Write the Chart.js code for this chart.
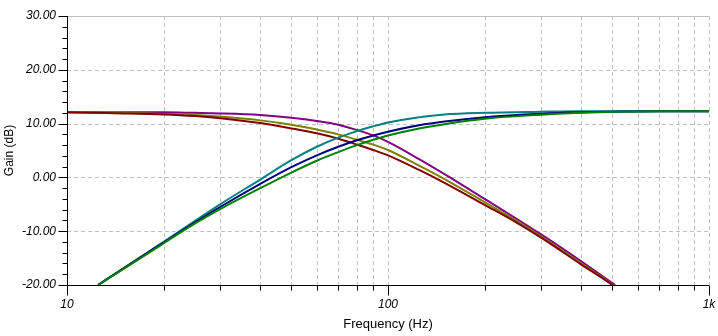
<!DOCTYPE html>
<html>
<head>
<meta charset="utf-8">
<script src="https://cdn.jsdelivr.net/npm/chart.js@4"></script>
<style>
  html, body { margin: 0; padding: 0; background: #fff; }
  #wrap { width: 718px; height: 336px; }
</style>
</head>
<body>
<div id="wrap"><canvas id="gainChart" width="718" height="336"></canvas></div>
<script>
// low-pass responses
const lowFreq = [10, 12, 15, 20, 25, 30, 40, 50, 60, 70, 80, 90, 100, 125, 150, 200, 250, 300, 400, 500, 510];
const lowMaroon = [12.1, 12.0, 11.9, 11.7, 11.4, 11.0, 10.1, 9.1, 8.2, 7.2, 6.1, 5.1, 4.1, 1.4, -1.0, -5.1, -8.3, -11.2, -16.2, -20.0, -20.4];
const lowOlive  = [12.1, 12.1, 12.0, 11.8, 11.6, 11.3, 10.6, 9.8, 8.9, 8.0, 7.0, 6.1, 5.1, 2.2, -0.3, -4.6, -8.0, -11.0, -16.0, -19.9, -20.3];
const lowPurple = [12.1, 12.1, 12.1, 12.1, 12.0, 11.9, 11.6, 11.1, 10.5, 9.8, 8.8, 7.8, 6.6, 3.4, 0.6, -4.0, -7.6, -10.6, -15.6, -19.65, -20.0];

// high-pass responses
const highFreq = [12.5, 15, 20, 25, 30, 40, 50, 60, 70, 80, 90, 100, 125, 150, 200, 300, 400, 500, 700, 1000];
const highTeal  = [-20, -16.9, -12.0, -8.1, -5.0, -0.4, 3.2, 5.7, 7.4, 8.6, 9.5, 10.2, 11.2, 11.7, 12.0, 12.2, 12.3, 12.3, 12.3, 12.3];
const highNavy  = [-20, -16.9, -12.1, -8.4, -5.5, -1.2, 1.9, 4.1, 5.7, 6.9, 7.8, 8.5, 9.7, 10.4, 11.2, 11.85, 12.1, 12.2, 12.3, 12.3];
const highGreen = [-20, -17.0, -12.25, -8.6, -5.9, -2.0, 0.9, 3.1, 4.7, 6.0, 7.0, 7.8, 9.1, 9.9, 10.9, 11.65, 12.0, 12.2, 12.3, 12.3];

// axis ticks
const xDecades = [10, 100];
const xLabelValues = [10, 100, 1000];
const xLabelText = ['10', '100', '1k'];
const yMin = -20, yMax = 30, yMajorStep = 10, yMinorStep = 2;

const xGridValues = [];
xDecades.forEach(d => { for (let m = 1; m < 10; m++) xGridValues.push(d * m); });
xGridValues.push(1000);

function series(freqs, gains, color) {
    return {
        data: freqs.map((f, i) => ({ x: f, y: gains[i] })),
        borderColor: color,
        borderWidth: 2,
        pointRadius: 0,
        fill: false,
        cubicInterpolationMode: 'monotone'
    };
}

const tickFont = { family: 'Liberation Sans', size: 12, style: 'italic' };

// gridlines, frame, axis lines and tick marks
const axisFrame = {
    id: 'axisFrame',
    beforeDatasetsDraw(chart) {
        const { ctx, chartArea: a, scales: { x, y } } = chart;
        ctx.save();
        ctx.lineWidth = 1;
        ctx.strokeStyle = '#c0c0c0';
        ctx.setLineDash([4, 3]);
        xGridValues.forEach(v => {
            if (v === 10) return;
            const px = Math.round(x.getPixelForValue(v)) + 0.5;
            ctx.beginPath();
            ctx.moveTo(px, a.top);
            ctx.lineTo(px, a.bottom);
            ctx.stroke();
        });
        for (let v = yMin + yMajorStep; v < yMax; v += yMajorStep) {
            const py = Math.round(y.getPixelForValue(v)) + 0.5;
            ctx.beginPath();
            ctx.moveTo(a.left, py);
            ctx.lineTo(a.right, py);
            ctx.stroke();
        }
        ctx.setLineDash([]);
        const top = Math.round(y.getPixelForValue(yMax)) + 0.5;
        ctx.beginPath();
        ctx.moveTo(a.left, top);
        ctx.lineTo(a.right, top);
        ctx.stroke();
        ctx.restore();
    },
    afterDatasetsDraw(chart) {
        const { ctx, chartArea: a, scales: { x, y } } = chart;
        ctx.save();
        ctx.lineWidth = 1;
        ctx.strokeStyle = '#000';
        const left = Math.round(a.left) + 0.5;
        const bottom = Math.round(a.bottom) + 0.5;
        ctx.beginPath();
        ctx.moveTo(left, a.top);
        ctx.lineTo(left, bottom);
        ctx.lineTo(a.right, bottom);
        ctx.stroke();
        for (let v = yMin; v <= yMax; v += yMinorStep) {
            const py = Math.round(y.getPixelForValue(v)) + 0.5;
            const len = v % yMajorStep === 0 ? 9 : 5;
            ctx.beginPath();
            ctx.moveTo(left - len, py);
            ctx.lineTo(left, py);
            ctx.stroke();
        }
        xGridValues.forEach(v => {
            const px = Math.round(x.getPixelForValue(v)) + 0.5;
            const len = xLabelValues.includes(v) ? 10 : 5;
            ctx.beginPath();
            ctx.moveTo(px, bottom);
            ctx.lineTo(px, bottom + len);
            ctx.stroke();
        });
        ctx.restore();
    }
};

const ctx = document.getElementById('gainChart').getContext('2d');
const gainChart = new Chart(ctx, {
    type: 'line',
    data: {
        datasets: [
            series(highFreq, highGreen, '#008000'),
            series(highFreq, highNavy, '#000080'),
            series(highFreq, highTeal, '#008080'),
            series(lowFreq, lowMaroon, '#800000'),
            series(lowFreq, lowOlive, '#808000'),
            series(lowFreq, lowPurple, '#800080')
        ]
    },
    options: {
        responsive: false,
        animation: false,
        events: [],
        layout: { padding: { top: 16, right: 9, left: 0, bottom: 0 } },
        plugins: { legend: { display: false }, tooltip: { enabled: false } },
        scales: {
            x: {
                type: 'logarithmic',
                min: 10,
                max: 1000,
                afterBuildTicks: s => { s.ticks = xGridValues.map(v => ({ value: v })); },
                afterFit: s => { s.height = 51; s.paddingLeft = 0; s.paddingRight = 0; },
                grid: { display: false, drawTicks: false },
                border: { display: false },
                ticks: {
                    autoSkip: false,
                    maxRotation: 0,
                    padding: 12,
                    color: '#000',
                    font: tickFont,
                    callback: v => {
                        const i = xLabelValues.indexOf(v);
                        return i >= 0 ? xLabelText[i] : '';
                    }
                },
                title: {
                    display: true,
                    text: 'Frequency (Hz)',
                    color: '#000',
                    font: { family: 'Liberation Sans', size: 13 },
                    padding: { top: 0, bottom: 4 }
                }
            },
            y: {
                min: yMin,
                max: yMax,
                afterFit: s => { s.width = 67; s.paddingTop = 0; s.paddingBottom = 0; },
                grid: { display: false, drawTicks: false },
                border: { display: false },
                ticks: {
                    stepSize: yMajorStep,
                    padding: 11,
                    color: '#000',
                    font: tickFont,
                    callback: v => v.toFixed(2)
                },
                title: {
                    display: true,
                    text: 'Gain (dB)',
                    color: '#000',
                    font: { family: 'Liberation Sans', size: 12 },
                    padding: { top: 2, bottom: 0 }
                }
            }
        }
    },
    plugins: [axisFrame]
});
</script>
</body>
</html>
